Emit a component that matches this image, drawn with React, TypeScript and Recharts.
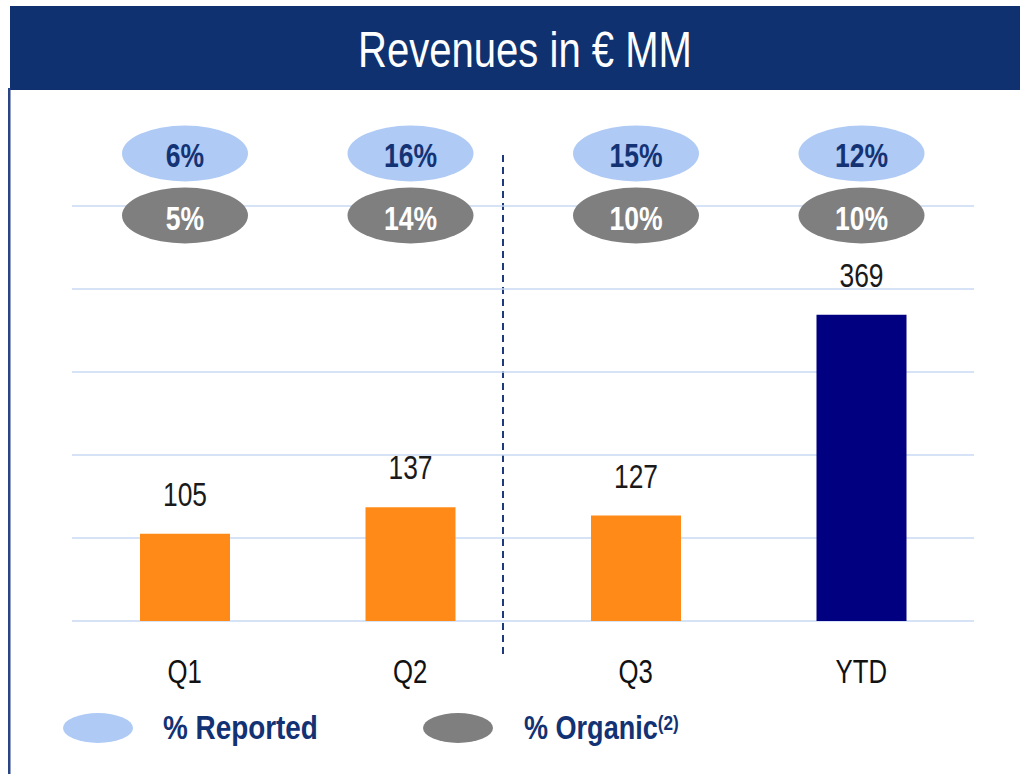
import React from "react";
import { BarChart, Bar, XAxis, YAxis, CartesianGrid, Cell, LabelList } from "recharts";

const categories = ["Q1", "Q2", "Q3", "YTD"];
const revenues = [105, 137, 127, 369];
const reportedPct = ["6%", "16%", "15%", "12%"];
const organicPct = ["5%", "14%", "10%", "10%"];
const yTicks = [0, 100, 200, 300, 400, 500];
const barColors = ["#ff8a17", "#ff8a17", "#ff8a17", "#000080"];

const data = categories.map((c, i) => ({
  name: c,
  value: revenues[i],
  reported: reportedPct[i],
  organic: organicPct[i],
}));

const FONT = "'Liberation Sans', Arial, sans-serif";
const NAVY = "#0f3170";

const Narrow = ({ x, y, children, size, fill, weight = "normal", sx = 0.82, anchor = "middle" }: any) => (
  <text
    transform={`translate(${x},${y}) scale(${sx},1)`}
    x={0}
    y={0}
    textAnchor={anchor}
    fontFamily={FONT}
    fontSize={size}
    fontWeight={weight}
    fill={fill}
  >
    {children}
  </text>
);

const ValueLabel = (props: any) => {
  const { x, y, width, value } = props;
  return (
    <Narrow x={x + width / 2} y={y - 28} size={33} fill="#1a1a1a" sx={0.8}>
      {value}
    </Narrow>
  );
};

const PctBubbles = (props: any) => {
  const { x, width, index } = props;
  const cx = x + width / 2;
  return (
    <g>
      <ellipse cx={cx} cy={153.5} rx={63} ry={28} fill="#aecaf5" />
      <Narrow x={cx} y={167} size={34} fill="#143375" weight="bold" sx={0.78}>
        {reportedPct[index]}
      </Narrow>
      <ellipse cx={cx} cy={215.5} rx={63} ry={28} fill="#7f7f7f" />
      <Narrow x={cx} y={230} size={34} fill="#ffffff" weight="bold" sx={0.78}>
        {organicPct[index]}
      </Narrow>
    </g>
  );
};

const CatTick = (props: any) => {
  const { x, y, payload } = props;
  return (
    <Narrow x={x} y={y + 62} size={33} fill="#111111" sx={0.78}>
      {payload.value}
    </Narrow>
  );
};

export default function App() {
  return (
    <div style={{ position: "absolute", left: 0, top: 0, width: 1020, height: 774, background: "#fff" }}>
      <svg width={1020} height={774} style={{ position: "absolute", left: 0, top: 0 }}>
        <rect x={10} y={6} width={1010} height={84} fill={NAVY} />
        <text
          x={358}
          y={67}
          fontFamily={FONT}
          fontSize={50}
          fill="#ffffff"
          textLength={334}
          lengthAdjust="spacingAndGlyphs"
        >
          Revenues in € MM
        </text>
        <rect x={8} y={88} width={2.5} height={686} fill="#2a4585" />
        <line x1={503} y1={155} x2={503} y2={655} stroke="#1f3a7a" strokeWidth={2} strokeDasharray="7 5" />
        <ellipse cx={98} cy={728} rx={35} ry={15} fill="#aecaf5" />
        <Narrow x={163} y={739} size={33} fill="#123274" weight="bold" sx={0.845} anchor="start">
          % Reported
        </Narrow>
        <ellipse cx={458} cy={728} rx={35} ry={15} fill="#7f7f7f" />
        <Narrow x={524} y={739} size={33} fill="#123274" weight="bold" sx={0.82} anchor="start">
          % Organic
          <tspan fontSize={21} dy={-9}>(2)</tspan>
        </Narrow>
      </svg>
      <div style={{ position: "absolute", left: 0, top: 0 }}>
        <BarChart
          width={1020}
          height={774}
          data={data}
          margin={{ top: 206, right: 46, bottom: 93, left: 72 }}
          barSize={90}
        >
          <CartesianGrid horizontal vertical={false} stroke="#c9d9f2" strokeWidth={1.5} />
          <YAxis hide domain={[0, 500]} ticks={yTicks} />
          <XAxis
            dataKey="name"
            axisLine={false}
            tickLine={false}
            tickSize={0}
            tickMargin={0}
            height={60}
            tick={<CatTick />}
            interval={0}
          />
          <Bar dataKey="value" isAnimationActive={false}>
            {data.map((d, i) => (
              <Cell key={d.name} fill={barColors[i]} />
            ))}
            <LabelList dataKey="value" content={<ValueLabel />} />
            <LabelList dataKey="value" content={<PctBubbles />} />
          </Bar>
        </BarChart>
      </div>
    </div>
  );
}
